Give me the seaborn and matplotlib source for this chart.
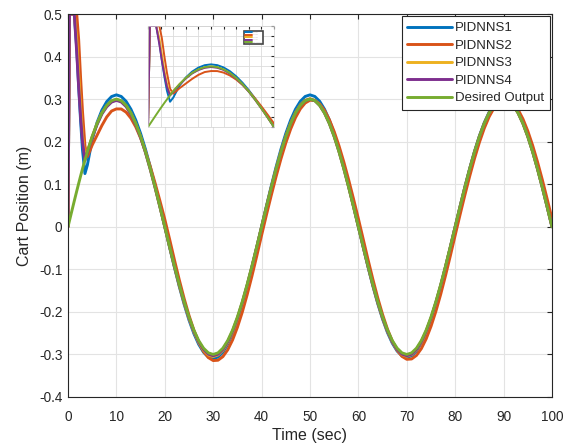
import matplotlib
matplotlib.use("Agg")
import matplotlib.pyplot as plt
import pandas as pd
import seaborn as sns

# time samples (sec): fine steps in the start-up transient, then every second
t = [0, 0.3, 0.5, 1.3, 1.8, 2.2, 2.6, 3.0, 3.5, 4.0, 4.5] + list(range(5, 101))

pidnns1 = [0, 0.5, 0.5, 0.5, 0.42, 0.33, 0.25, 0.18, 0.125, 0.145, 0.175,
           0.205, 0.245, 0.274, 0.294, 0.306,
           0.31, 0.3062, 0.2948, 0.2762, 0.2508, 0.2192, 0.1822, 0.1407, 0.0958, 0.0485, 0,
           -0.0485, -0.0958, -0.1407, -0.1822, -0.2192, -0.2508, -0.2762, -0.2948, -0.3062, -0.31,
           -0.3062, -0.2948, -0.2762, -0.2508, -0.2192, -0.1822, -0.1407, -0.0958, -0.0485, 0,
           0.0485, 0.0958, 0.1407, 0.1822, 0.2192, 0.2508, 0.2762, 0.2948, 0.3062, 0.31,
           0.3062, 0.2948, 0.2762, 0.2508, 0.2192, 0.1822, 0.1407, 0.0958, 0.0485, 0,
           -0.0480, -0.0949, -0.1394, -0.1805, -0.2171, -0.2484, -0.2735, -0.2920, -0.3032, -0.307,
           -0.3032, -0.2920, -0.2735, -0.2484, -0.2171, -0.1805, -0.1394, -0.0949, -0.0480, 0,
           0.0472, 0.0933, 0.1371, 0.1775, 0.2135, 0.2443, 0.2691, 0.2872, 0.2983, 0.302,
           0.2983, 0.2872, 0.2691, 0.2443, 0.2135, 0.1775, 0.1371, 0.0933, 0.0472, 0]

pidnns2 = [0, 0.5, 0.5, 0.5, 0.5, 0.44, 0.35, 0.27, 0.19, 0.165, 0.178,
           0.192, 0.215, 0.238, 0.258, 0.272,
           0.277, 0.2768, 0.2693, 0.2551, 0.2347, 0.2085, 0.1772, 0.1415, 0.1023, 0.0606, 0.0175,
           -0.0296, -0.0783, -0.1251, -0.1688, -0.2083, -0.2427, -0.2711, -0.2929, -0.3074, -0.3144,
           -0.3136, -0.3051, -0.2891, -0.2660, -0.2363, -0.2008, -0.1603, -0.1160, -0.0687, -0.0198,
           0.0280, 0.0741, 0.1183, 0.1597, 0.1971, 0.2296, 0.2565, 0.2771, 0.2908, 0.2974,
           0.2967, 0.2886, 0.2735, 0.2516, 0.2235, 0.1899, 0.1517, 0.1097, 0.0650, 0.0187,
           -0.0294, -0.0776, -0.1239, -0.1672, -0.2063, -0.2404, -0.2685, -0.2901, -0.3045, -0.3114,
           -0.3106, -0.3022, -0.2864, -0.2634, -0.2340, -0.1989, -0.1588, -0.1148, -0.0680, -0.0196,
           0.0282, 0.0746, 0.1191, 0.1607, 0.1984, 0.2312, 0.2582, 0.2789, 0.2928, 0.2994,
           0.2987, 0.2906, 0.2753, 0.2533, 0.2250, 0.1912, 0.1527, 0.1104, 0.0654, 0.0188]

pidnns3 = [0, 0.5, 0.5, 0.5, 0.44, 0.36, 0.28, 0.215, 0.162, 0.178, 0.194,
           0.212, 0.242, 0.267, 0.284, 0.295,
           0.299, 0.2953, 0.2844, 0.2664, 0.2419, 0.2114, 0.1758, 0.1357, 0.0924, 0.0468, 0,
           -0.0477, -0.0942, -0.1385, -0.1793, -0.2157, -0.2467, -0.2718, -0.2901, -0.3012, -0.305,
           -0.3012, -0.2901, -0.2718, -0.2467, -0.2157, -0.1793, -0.1385, -0.0942, -0.0477, 0,
           0.0471, 0.0930, 0.1367, 0.1769, 0.2128, 0.2435, 0.2682, 0.2863, 0.2973, 0.301,
           0.2973, 0.2863, 0.2682, 0.2435, 0.2128, 0.1769, 0.1367, 0.0930, 0.0471, 0,
           -0.0475, -0.0939, -0.1380, -0.1787, -0.2150, -0.2459, -0.2709, -0.2891, -0.3003, -0.304,
           -0.3003, -0.2891, -0.2709, -0.2459, -0.2150, -0.1787, -0.1380, -0.0939, -0.0475, 0,
           0.0469, 0.0927, 0.1362, 0.1763, 0.2121, 0.2427, 0.2673, 0.2853, 0.2963, 0.3,
           0.2963, 0.2853, 0.2673, 0.2427, 0.2121, 0.1763, 0.1362, 0.0927, 0.0469, 0]

pidnns4 = [0, 0.5, 0.5, 0.5, 0.41, 0.33, 0.26, 0.2, 0.156, 0.174, 0.192,
           0.21, 0.24, 0.265, 0.282, 0.293,
           0.297, 0.2933, 0.2825, 0.2646, 0.2403, 0.2100, 0.1746, 0.1348, 0.0918, 0.0465, 0,
           -0.0474, -0.0936, -0.1376, -0.1781, -0.2143, -0.2451, -0.2700, -0.2882, -0.2993, -0.303,
           -0.2993, -0.2882, -0.2700, -0.2451, -0.2143, -0.1781, -0.1376, -0.0936, -0.0474, 0,
           0.0469, 0.0927, 0.1362, 0.1763, 0.2121, 0.2427, 0.2673, 0.2853, 0.2963, 0.3,
           0.2963, 0.2853, 0.2673, 0.2427, 0.2121, 0.1763, 0.1362, 0.0927, 0.0469, 0,
           -0.0474, -0.0936, -0.1376, -0.1781, -0.2143, -0.2451, -0.2700, -0.2882, -0.2993, -0.303,
           -0.2993, -0.2882, -0.2700, -0.2451, -0.2143, -0.1781, -0.1376, -0.0936, -0.0474, 0,
           0.0469, 0.0927, 0.1362, 0.1763, 0.2121, 0.2427, 0.2673, 0.2853, 0.2963, 0.3,
           0.2963, 0.2853, 0.2673, 0.2427, 0.2121, 0.1763, 0.1362, 0.0927, 0.0469, 0]

desired = [0, 0.0141, 0.0235, 0.0608, 0.0837, 0.1016, 0.1192, 0.1362, 0.1568, 0.1763, 0.1948,
           0.2121, 0.2427, 0.2673, 0.2853, 0.2963,
           0.3, 0.2963, 0.2853, 0.2673, 0.2427, 0.2121, 0.1763, 0.1362, 0.0927, 0.0469, 0,
           -0.0469, -0.0927, -0.1362, -0.1763, -0.2121, -0.2427, -0.2673, -0.2853, -0.2963, -0.3,
           -0.2963, -0.2853, -0.2673, -0.2427, -0.2121, -0.1763, -0.1362, -0.0927, -0.0469, 0,
           0.0469, 0.0927, 0.1362, 0.1763, 0.2121, 0.2427, 0.2673, 0.2853, 0.2963, 0.3,
           0.2963, 0.2853, 0.2673, 0.2427, 0.2121, 0.1763, 0.1362, 0.0927, 0.0469, 0,
           -0.0469, -0.0927, -0.1362, -0.1763, -0.2121, -0.2427, -0.2673, -0.2853, -0.2963, -0.3,
           -0.2963, -0.2853, -0.2673, -0.2427, -0.2121, -0.1763, -0.1362, -0.0927, -0.0469, 0,
           0.0469, 0.0927, 0.1362, 0.1763, 0.2121, 0.2427, 0.2673, 0.2853, 0.2963, 0.3,
           0.2963, 0.2853, 0.2673, 0.2427, 0.2121, 0.1763, 0.1362, 0.0927, 0.0469, 0]

names = ["PIDNNS1", "PIDNNS2", "PIDNNS3", "PIDNNS4", "Desired Output"]
colors = ["#0072BD", "#D95319", "#EDB120", "#7E2F8E", "#77AC30"]

frames = []
for name, vals in zip(names, [pidnns1, pidnns2, pidnns3, pidnns4, desired]):
    frames.append(pd.DataFrame({"t": t, "y": vals, "series": name}))
df = pd.concat(frames, ignore_index=True)

sns.set_style("white")
plt.rcParams["font.family"] = ["Liberation Sans", "DejaVu Sans"]
plt.rcParams["xtick.direction"] = "in"
plt.rcParams["ytick.direction"] = "in"

dark = "#262626"
fig = plt.figure(figsize=(5.68, 4.43), dpi=100)
ax = fig.add_axes([68 / 568, 1 - 397 / 443, 484 / 568, 383 / 443])

sns.lineplot(data=df, x="t", y="y", hue="series", hue_order=names,
             palette=colors, estimator=None, sort=False, linewidth=2.1, ax=ax)

ax.set_xlim(0, 100)
ax.set_ylim(-0.4, 0.5)
ax.set_xticks(range(0, 101, 10))
ax.set_yticks([-0.4, -0.3, -0.2, -0.1, 0, 0.1, 0.2, 0.3, 0.4, 0.5])
ax.set_yticklabels(["-0.4", "-0.3", "-0.2", "-0.1", "0", "0.1", "0.2", "0.3", "0.4", "0.5"])
ax.grid(True, color="#e3e3e3", linewidth=0.8)
ax.tick_params(top=True, right=True, length=3.5, width=0.8, colors=dark, labelsize=9.8, labelcolor=dark)
ax.tick_params(axis="x", pad=9.5)
ax.tick_params(axis="y", pad=4)
for s in ax.spines.values():
    s.set_color(dark)
    s.set_linewidth(0.8)
ax.set_xlabel("Time (sec)", fontsize=11.5, color=dark, labelpad=3)
ax.set_ylabel("Cart Position (m)", fontsize=11.5, color=dark, labelpad=5)

handles, labels = ax.get_legend_handles_labels()
leg = ax.legend(handles, labels, loc="upper right", fontsize=9.5, handlelength=3.35,
                handletextpad=0.25, labelspacing=0.4, borderpad=0.45, borderaxespad=0.15,
                fancybox=False, framealpha=1, edgecolor=dark)
leg.get_frame().set_linewidth(0.8)
for h in leg.get_lines():
    h.set_linewidth(2.1)

# zoomed inset of the first 20 s
ins = fig.add_axes([148 / 568, 1 - 127 / 443, 126 / 568, 101 / 443])
sns.lineplot(data=df, x="t", y="y", hue="series", hue_order=names,
             palette=colors, estimator=None, sort=False, linewidth=1.4, ax=ins)
ins.set_xlim(0, 20)
ins.set_ylim(0, 0.5)
ins.set_xticks(range(0, 21, 2))
ins.set_yticks([i * 0.05 for i in range(11)])
ins.set_xticklabels([])
ins.set_yticklabels([])
ins.set_xlabel("")
ins.set_ylabel("")
ins.grid(True, color="#dcdcdc", linewidth=0.6)
ins.tick_params(top=True, right=True, length=2, width=0.8, colors=dark)
for s in ins.spines.values():
    s.set_color("#cfcfcf")
    s.set_linewidth(0.5)
ileg = ins.legend(loc="upper right", bbox_to_anchor=(0.915, 0.955), fontsize=1.0,
                  handlelength=5, handletextpad=0.5, labelspacing=1.0, borderpad=1.0,
                  borderaxespad=0, fancybox=False, framealpha=1, edgecolor="#444444")
ileg.get_frame().set_linewidth(1.2)
for h in ileg.get_lines():
    h.set_linewidth(1.4)
for txt in ileg.get_texts():
    txt.set_color("#bbbbbb")

fig.savefig("out.png", dpi=100)
plt.close(fig)
